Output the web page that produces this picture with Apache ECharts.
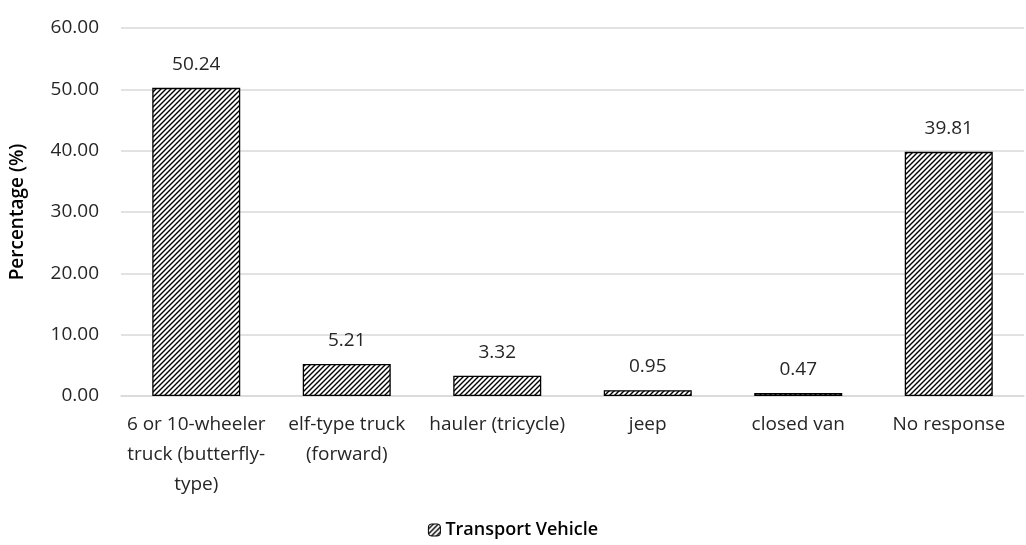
<!DOCTYPE html>
<html>
<head>
<meta charset="utf-8">
<script src="https://cdn.jsdelivr.net/npm/echarts@6/dist/echarts.min.js"></script>
<style>
  html, body { margin: 0; padding: 0; background: #fff; }
  #chart { width: 1026px; height: 545px; }
</style>
</head>
<body>
<div id="chart"></div>
<script>
const categories = [
  '6 or 10-wheeler\ntruck (butterfly-\ntype)',
  'elf-type truck\n(forward)',
  'hauler (tricycle)',
  'jeep',
  'closed van',
  'No response'
];
const percentages = [50.24, 5.21, 3.32, 0.95, 0.47, 39.81];
const yTicks = { min: 0, max: 60, interval: 10 };
const seriesName = 'Transport Vehicle';

// Diagonal hatch tile used as the bar fill
function hatchTile() {
  const s = 5;
  const c = document.createElement('canvas');
  c.width = s; c.height = s;
  const g = c.getContext('2d');
  g.fillStyle = '#fff';
  g.fillRect(0, 0, s, s);
  g.strokeStyle = '#000';
  g.lineWidth = 1.4;
  g.beginPath();
  g.moveTo(-1, s + 1); g.lineTo(s + 1, -1);
  g.moveTo(-1, 1); g.lineTo(1, -1);
  g.moveTo(s - 1, s + 1); g.lineTo(s + 1, s - 1);
  g.stroke();
  return c;
}

const font = '"Open Sans", "Noto Sans", sans-serif';
const textColor = '#262626';
const chart = echarts.init(document.getElementById('chart'));
chart.setOption({
  animation: false,
  textStyle: { fontFamily: font },
  grid: { left: 118, right: 2, top: 28, bottom: 149 },
  legend: {
    bottom: 1,
    left: 'center',
    itemWidth: 12,
    itemHeight: 12,
    itemGap: 4,
    textStyle: { fontSize: 18, color: '#000', fontFamily: font, fontWeight: 600 },
    data: [{ name: seriesName, itemStyle: { borderColor: '#000', borderWidth: 1 } }]
  },
  xAxis: {
    type: 'category',
    data: categories,
    axisLine: { lineStyle: { color: '#d9d9d9', width: 1.5 } },
    axisTick: { show: false },
    axisLabel: { fontSize: 19, color: textColor, lineHeight: 30, margin: 14, interval: 0 }
  },
  yAxis: {
    type: 'value',
    min: yTicks.min,
    max: yTicks.max,
    interval: yTicks.interval,
    name: 'Percentage (%)',
    nameLocation: 'middle',
    nameGap: 94,
    nameTextStyle: { fontSize: 19, color: '#000', fontWeight: 600, fontFamily: font },
    axisLabel: {
      fontSize: 19, color: textColor, margin: 22,
      formatter: v => v.toFixed(2)
    },
    splitLine: { lineStyle: { color: '#d9d9d9', width: 1.5 } },
    axisLine: { show: false },
    axisTick: { show: false }
  },
  series: [{
    name: seriesName,
    type: 'bar',
    data: percentages,
    barWidth: 88,
    itemStyle: {
      color: { image: hatchTile(), repeat: 'repeat' },
      borderColor: '#000',
      borderWidth: 1.3
    },
    label: {
      show: true,
      position: 'top',
      distance: 14,
      fontSize: 19,
      color: textColor,
      formatter: p => p.value.toFixed(2)
    }
  }]
});
</script>
</body>
</html>
